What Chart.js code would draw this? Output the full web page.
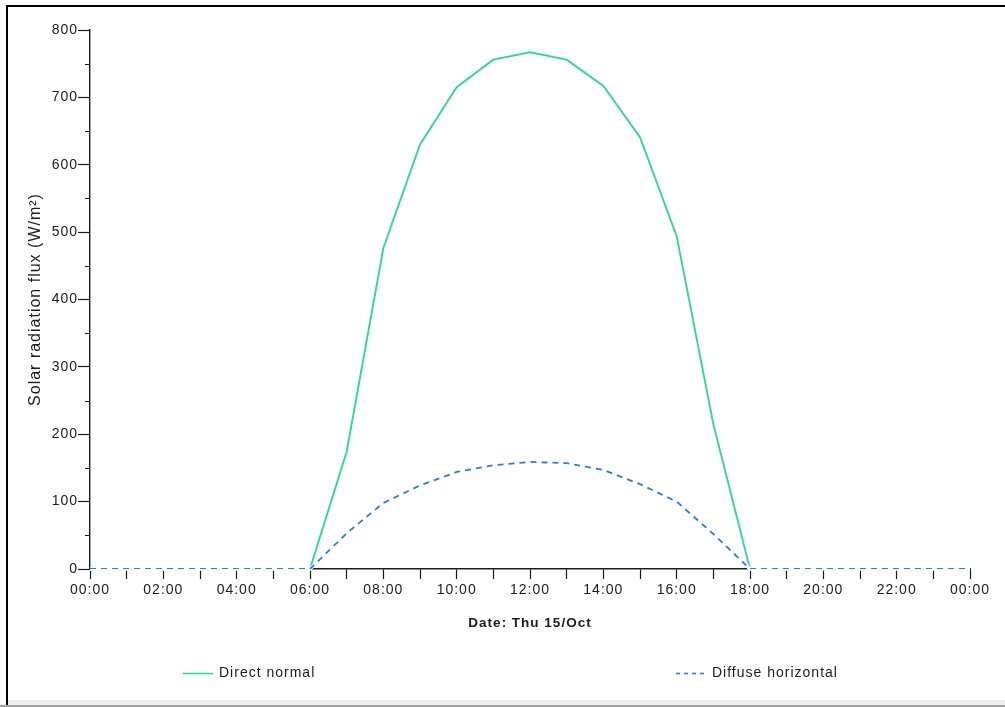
<!DOCTYPE html>
<html>
<head>
<meta charset="utf-8">
<script src="https://cdn.jsdelivr.net/npm/chart.js@4.4.1/dist/chart.umd.min.js"></script>
<style>
  html, body { margin: 0; padding: 0; background: #fff; }
  body { width: 1005px; height: 707px; position: relative; overflow: hidden; }
  #frame {
    position: absolute; left: 6px; top: 5px; right: 0; bottom: 2px;
    border-top: 2px solid #000; border-left: 2px solid #000;
  }
  #strip { position: absolute; left: 8px; right: 0; top: 700px; height: 5px; background: #efefef; }
  #edge { position: absolute; left: 0; right: 0; top: 705px; height: 2px; background: #a0a0a0; }
  #wrap { position: absolute; left: 0; top: 0; width: 1005px; height: 707px; }
</style>
</head>
<body>
<div id="frame"></div>
<div id="strip"></div>
<div id="edge"></div>
<div id="wrap"><canvas id="c" width="1005" height="707"></canvas></div>
<script>
// Hourly time labels for Thu 15/Oct
const hourLabels = ['00:00','01:00','02:00','03:00','04:00','05:00','06:00','07:00','08:00','09:00','10:00','11:00',
  '12:00','13:00','14:00','15:00','16:00','17:00','18:00','19:00','20:00','21:00','22:00','23:00','00:00'];

// Solar radiation flux, W/m²
const directNormal = [0,0,0,0,0,0,0,174,476,630,715,756,767,756,717,641,494,215,0,0,0,0,0,0,0];
const diffuseHorizontal = [0,0,0,0,0,0,0,53,98,124,144,154,159,157,147,126,100,52,0,0,0,0,0,0,0];

const seriesNames = ['Direct normal', 'Diffuse horizontal'];
const yMax = 800;

const FONT = "'Liberation Sans', Arial, sans-serif";
const INK = '#1c1c1c';

// Slightly widened text spacing for all canvas text
const spacing = {
  id: 'spacing',
  beforeUpdate(chart) { chart.ctx.letterSpacing = '1px'; },
  beforeLayout(chart) { chart.ctx.letterSpacing = '1px'; },
  beforeDraw(chart) { chart.ctx.letterSpacing = '1px'; }
};

// White halo under the dashed series so its gaps stay clean over the baseline
const halo = {
  id: 'halo',
  beforeDatasetDraw(chart, args) {
    if (args.index !== 1) return;
    const pts = args.meta.data;
    const ctx = chart.ctx;
    ctx.save();
    ctx.beginPath();
    pts.forEach((p, i) => i ? ctx.lineTo(p.x, p.y) : ctx.moveTo(p.x, p.y));
    ctx.strokeStyle = '#fff';
    ctx.lineWidth = 3.5;
    ctx.stroke();
    ctx.restore();
  }
};

// Short minor ticks on the value axis
const minorTicks = {
  id: 'minorTicks',
  afterDraw(chart) {
    const y = chart.scales.y;
    const ctx = chart.ctx;
    ctx.save();
    ctx.strokeStyle = INK;
    ctx.lineWidth = 1;
    y.ticks.forEach(t => {
      if (t.value % 100 === 0) return;
      const py = Math.round(y.getPixelForValue(t.value)) + 0.5;
      ctx.beginPath();
      ctx.moveTo(y.right - 5, py);
      ctx.lineTo(y.right, py);
      ctx.stroke();
    });
    ctx.restore();
  }
};

// Legend spread along the bottom edge
const spreadLegend = {
  id: 'spreadLegend',
  afterDraw(chart, args, opts) {
    const ctx = chart.ctx;
    const area = chart.chartArea;
    ctx.save();
    ctx.letterSpacing = '1px';
    ctx.font = '14px ' + FONT;
    ctx.textBaseline = 'middle';
    ctx.textAlign = 'left';
    chart.data.datasets.forEach((ds, i) => {
      const x0 = area.left + opts.offsets[i];
      const y0 = area.bottom + opts.drop;
      ctx.beginPath();
      ctx.setLineDash(i === 1 ? [4, 4] : []);
      ctx.strokeStyle = ds.borderColor;
      ctx.lineWidth = 1.6;
      ctx.moveTo(x0, y0 + 0.5);
      ctx.lineTo(x0 + 30, y0 + 0.5);
      ctx.stroke();
      ctx.setLineDash([]);
      ctx.fillStyle = INK;
      ctx.fillText(ds.label, x0 + 36, y0);
    });
    ctx.restore();
  }
};

new Chart(document.getElementById('c'), {
  type: 'line',
  data: {
    labels: hourLabels,
    datasets: [
      {
        label: seriesNames[0],
        data: directNormal,
        borderColor: '#2fd6a4',
        backgroundColor: 'transparent',
        borderWidth: 1.9,
        pointRadius: 0,
        tension: 0,
        order: 1
      },
      {
        label: seriesNames[1],
        data: diffuseHorizontal,
        borderColor: '#2a7fde',
        backgroundColor: 'transparent',
        borderWidth: 1.8,
        borderDash: [6, 5],
        pointRadius: 0,
        tension: 0,
        order: 0
      }
    ]
  },
  options: {
    responsive: false,
    animation: false,
    events: [],
    layout: { padding: { left: 0, top: 30, right: 35, bottom: 76 } },
    plugins: {
      legend: { display: false },
      tooltip: { enabled: false },
      spreadLegend: { offsets: [93, 586], drop: 104 }
    },
    scales: {
      x: {
        type: 'category',
        offset: false,
        afterFit(s) { s.height = 62; },
        grid: {
          drawOnChartArea: false,
          drawTicks: true,
          tickLength: 10,
          tickColor: INK,
          tickWidth: 1.2
        },
        border: { display: true, color: INK, width: 1.4 },
        ticks: {
          autoSkip: false,
          maxRotation: 0,
          padding: 3,
          color: INK,
          font: { family: FONT, size: 14 },
          callback: (v, i) => (i % 2 === 0 ? hourLabels[i] : '')
        },
        title: {
          display: true,
          text: 'Date: Thu 15/Oct',
          color: INK,
          font: { family: FONT, size: 13.5, weight: 'bold' },
          padding: 0
        }
      },
      y: {
        min: 0,
        max: yMax,
        afterFit(s) { s.width = 90; },
        grid: {
          drawOnChartArea: false,
          tickLength: 12,
          tickWidth: 1.2,
          tickColor: c => (c.tick && c.tick.value % 100 === 0 ? INK : 'transparent')
        },
        border: { display: true, color: INK, width: 1.4 },
        ticks: {
          stepSize: 50,
          autoSkip: false,
          padding: 0,
          color: INK,
          font: { family: FONT, size: 14 },
          callback: v => (v % 100 === 0 ? String(v) : '')
        },
        title: {
          display: true,
          text: 'Solar radiation flux (W/m²)',
          color: INK,
          font: { family: FONT, size: 16 },
          padding: { top: 26, bottom: 0 }
        }
      }
    }
  },
  plugins: [spacing, halo, minorTicks, spreadLegend]
});
</script>
</body>
</html>
